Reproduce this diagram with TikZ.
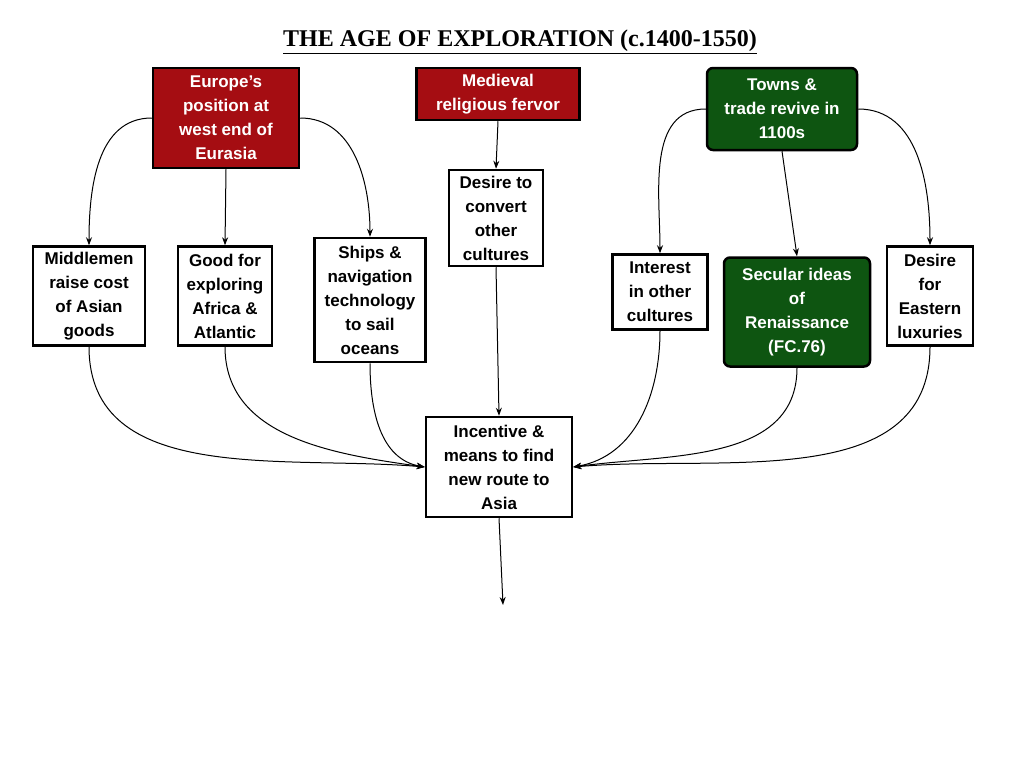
\documentclass[tikz,border=0pt]{standalone}
\usepackage{fontspec}
\setmainfont{Liberation Sans}
\newfontfamily\titlefont{Liberation Serif}
\usetikzlibrary{arrows.meta}
\definecolor{dred}{HTML}{A50D12}
\definecolor{dgreen}{HTML}{0E5511}
\begin{document}
\begin{tikzpicture}[x=1pt,y=-1pt,
 box/.style={draw=black,line width=2.5pt,fill=white,align=center,inner sep=1pt,font=\fontsize{17}{24}\selectfont\bfseries},
 redbox/.style={box,fill=dred,text=white},
 greenbox/.style={box,fill=dgreen,text=white,rounded corners=6pt},
 arr/.style={-{Stealth[length=8pt,width=6pt]},line width=1pt}]
\useasboundingbox (0,0) rectangle (1024,768);
\node[font=\titlefont\fontsize{24}{28}\selectfont\bfseries] (title) at (520,42) {\underline{THE AGE OF EXPLORATION (c.1400-1550)}};
\node[redbox,minimum width=146pt,minimum height=100pt] (eur) at (226,118) {Europe’s\\position at\\west end of\\Eurasia};
\node[redbox,minimum width=163pt,minimum height=52pt] (med) at (498,94) {Medieval\\religious fervor};
\node[greenbox,minimum width=150pt,minimum height=82pt] (town) at (782,109) {Towns \&\\trade revive in\\1100s};
\node[box,minimum width=94pt,minimum height=96pt] (conv) at (496,218) {Desire to\\convert\\other\\cultures};
\node[box,minimum width=112pt,minimum height=99pt] (mid) at (89,296) {Middlemen\\raise cost\\of Asian\\goods};
\node[box,minimum width=94pt,minimum height=99pt] (good) at (225,296) {Good for\\exploring\\Africa \&\\Atlantic};
\node[box,minimum width=111pt,minimum height=124pt] (ship) at (370,300) {Ships \&\\navigation\\technology\\to sail\\oceans};
\node[box,minimum width=95pt,minimum height=75pt] (int) at (660,292) {Interest\\in other\\cultures};
\node[greenbox,minimum width=146pt,minimum height=109pt] (sec) at (797,312) {Secular ideas\\of\\Renaissance\\(FC.76)};
\node[box,minimum width=86pt,minimum height=99pt] (east) at (930,296) {Desire\\for\\Eastern\\luxuries};
\node[box,minimum width=146pt,minimum height=100pt] (inc) at (499,467) {Incentive \&\\means to find\\new route to\\Asia};
\coordinate (end) at (503,605);
\draw[arr] (eur.west) to[out=180,in=90] (mid.north);
\draw[arr] (eur.south) -- (good.north);
\draw[arr] (eur.east) to[out=0,in=90] (ship.north);
\draw[arr] (med.south) -- (conv.north);
\draw[arr] (conv.south) -- (inc.north);
\draw[arr] (town.west) to[out=180,in=90] (int.north);
\draw[arr] (town.east) to[out=0,in=90] (east.north);
\draw[arr] (town.south) -- (sec.north);
\draw[arr] (mid.south) to[out=-90,in=175] (inc.west);
\draw[arr] (good.south) to[out=-90,in=172] (inc.west);
\draw[arr] (ship.south) to[out=-90,in=170] (inc.west);
\draw[arr] (int.south) to[out=-90,in=10] (inc.east);
\draw[arr] (sec.south) to[out=-90,in=8] (inc.east);
\draw[arr] (east.south) to[out=-90,in=5] (inc.east);
\draw[arr] (inc.south) -- (end);
\end{tikzpicture}
\end{document}
